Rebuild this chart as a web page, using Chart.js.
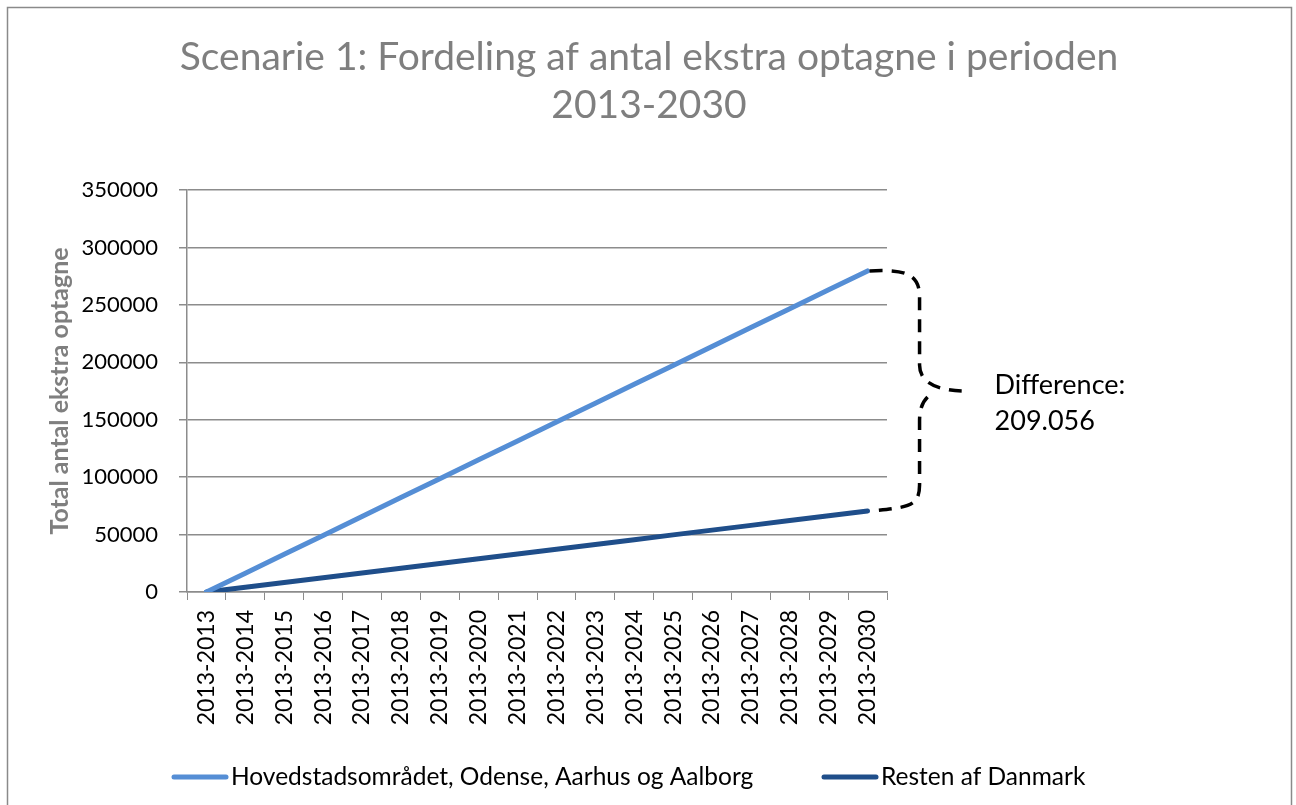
<!DOCTYPE html>
<html>
<head>
<meta charset="utf-8">
<script src="https://cdn.jsdelivr.net/npm/chart.js@4"></script>
<style>
  html, body { margin: 0; padding: 0; background: #fff; }
  canvas { display: block; }
</style>
</head>
<body>
<canvas id="chart" width="1296" height="805"></canvas>
<script>
const periods = [
  "2013-2013", "2013-2014", "2013-2015", "2013-2016", "2013-2017", "2013-2018",
  "2013-2019", "2013-2020", "2013-2021", "2013-2022", "2013-2023", "2013-2024",
  "2013-2025", "2013-2026", "2013-2027", "2013-2028", "2013-2029", "2013-2030"
];
const hovedstadValues = [
  0, 16400, 32900, 49300, 65800, 82200, 98700, 115100, 131500,
  148000, 164400, 180900, 197300, 213700, 230200, 246600, 263100, 279500
];
const restenValues = [
  0, 4140, 8290, 12430, 16580, 20720, 24860, 29010, 33150,
  37300, 41440, 45580, 49730, 53870, 58020, 62160, 66300, 70444
];
const seriesLabels = ["Hovedstadsområdet, Odense, Aarhus og Aalborg", "Resten af Danmark"];
const titleLines = ["Scenarie 1: Fordeling af antal ekstra optagne i perioden", "2013-2030"];
const yAxisTitle = "Total antal ekstra optagne";
const differenceText = ["Difference:", "209.056"];

const FONT = "Lato, 'Open Sans', sans-serif";
const lightBlue = "#558ED5";
const darkBlue = "#1F4E8A";
const gridGrey = "#8c8c8c";

// ramme + titel (titlen centreres over hele figuren, ikke kun plotområdet)
const framePlugin = {
  id: "frame",
  beforeDraw(chart) {
    const ctx = chart.ctx;
    ctx.save();
    ctx.strokeStyle = "#8a8a8a";
    ctx.lineWidth = 1.5;
    ctx.strokeRect(7.5, 7.5, 1284, 810);
    ctx.fillStyle = "#7f7f7f";
    ctx.font = "39px " + FONT;
    ctx.textAlign = "center";
    ctx.textBaseline = "middle";
    ctx.fillText(titleLines[0], 649, 57);
    ctx.fillText(titleLines[1], 649, 105);
    ctx.restore();
  }
};

// tuborgklamme mellem de to slutpunkter + tekst
const bracePlugin = {
  id: "brace",
  afterDatasetsDraw(chart) {
    const last = periods.length - 1;
    const p1 = chart.getDatasetMeta(0).data[last];
    const p2 = chart.getDatasetMeta(1).data[last];
    const ctx = chart.ctx;
    const xr = p1.x + 52;
    const tip = p1.x + 100;
    const mid = (p1.y + p2.y) / 2;
    ctx.save();
    ctx.strokeStyle = "#000";
    ctx.lineWidth = 3.5;
    ctx.setLineDash([13, 9]);
    ctx.beginPath();
    ctx.moveTo(p1.x + 2, p1.y);
    ctx.bezierCurveTo(p1.x + 40, p1.y - 2, xr, p1.y + 4, xr, p1.y + 26);
    ctx.lineTo(xr, mid - 26);
    ctx.bezierCurveTo(xr, mid - 6, xr + 22, mid, tip, mid);
    ctx.moveTo(tip - 40, mid + 6);
    ctx.bezierCurveTo(xr + 4, mid + 10, xr, mid + 16, xr, mid + 30);
    ctx.lineTo(xr, p2.y - 26);
    ctx.bezierCurveTo(xr, p2.y - 4, p1.x + 40, p2.y - 4, p2.x + 4, p2.y);
    ctx.stroke();
    ctx.restore();

    ctx.save();
    ctx.fillStyle = "#000";
    ctx.font = "27px " + FONT;
    ctx.textBaseline = "middle";
    ctx.textAlign = "left";
    ctx.fillText(differenceText[0], tip + 27, mid - 6);
    ctx.fillText(differenceText[1], tip + 27, mid + 30);
    ctx.restore();
  }
};

// legende i bunden som i Excel
const legendPlugin = {
  id: "bottomLegend",
  afterDraw(chart) {
    const ctx = chart.ctx;
    const y = 777;
    const items = [
      { x: 172, ds: chart.data.datasets[0] },
      { x: 822, ds: chart.data.datasets[1] }
    ];
    ctx.save();
    items.forEach(it => {
      ctx.strokeStyle = it.ds.borderColor;
      ctx.lineWidth = 5;
      ctx.lineCap = "round";
      ctx.beginPath();
      ctx.moveTo(it.x + 2, y);
      ctx.lineTo(it.x + 54, y);
      ctx.stroke();
      ctx.fillStyle = "#000";
      ctx.font = "24.5px " + FONT;
      ctx.textBaseline = "middle";
      ctx.fillText(it.ds.label, it.x + 59, y);
    });
    ctx.restore();
  }
};

new Chart(document.getElementById("chart"), {
  type: "line",
  data: {
    labels: periods,
    datasets: [
      {
        label: seriesLabels[0],
        data: hovedstadValues,
        borderColor: lightBlue,
        backgroundColor: lightBlue,
        borderWidth: 5,
        borderCapStyle: "round",
        pointRadius: 0,
        tension: 0
      },
      {
        label: seriesLabels[1],
        data: restenValues,
        borderColor: darkBlue,
        backgroundColor: darkBlue,
        borderWidth: 5,
        borderCapStyle: "round",
        pointRadius: 0,
        tension: 0
      }
    ]
  },
  options: {
    responsive: false,
    animation: false,
    devicePixelRatio: 1,
    layout: { padding: { top: 190, left: 8, right: 409, bottom: 0 } },
    plugins: {
      legend: { display: false },
      tooltip: { enabled: false },
      title: { display: false }
    },
    scales: {
      x: {
        offset: true,
        grid: {
          offset: true,
          drawOnChartArea: false,
          drawTicks: true,
          tickLength: 8,
          color: gridGrey
        },
        border: { color: gridGrey, width: 1.5 },
        ticks: {
          color: "#000",
          autoSkip: false,
          maxRotation: 90,
          minRotation: 90,
          padding: 10,
          font: { family: FONT, size: 23 }
        },
        afterFit(scale) { scale.height = 213; }
      },
      y: {
        min: 0,
        max: 350000,
        ticks: {
          stepSize: 50000,
          color: "#000",
          padding: 21,
          font: { family: FONT, size: 22 },
          callback: v => String(v)
        },
        grid: {
          color: gridGrey,
          lineWidth: 1.5,
          tickLength: 8
        },
        border: { color: gridGrey, width: 1.5 },
        title: {
          display: true,
          text: yAxisTitle,
          color: "#7f7f7f",
          font: { family: FONT, size: 25, weight: "bold" },
          padding: { top: 37, bottom: 0 }
        },
        afterFit(scale) { scale.width = 179; }
      }
    }
  },
  plugins: [framePlugin, bracePlugin, legendPlugin]
});
</script>
</body>
</html>
